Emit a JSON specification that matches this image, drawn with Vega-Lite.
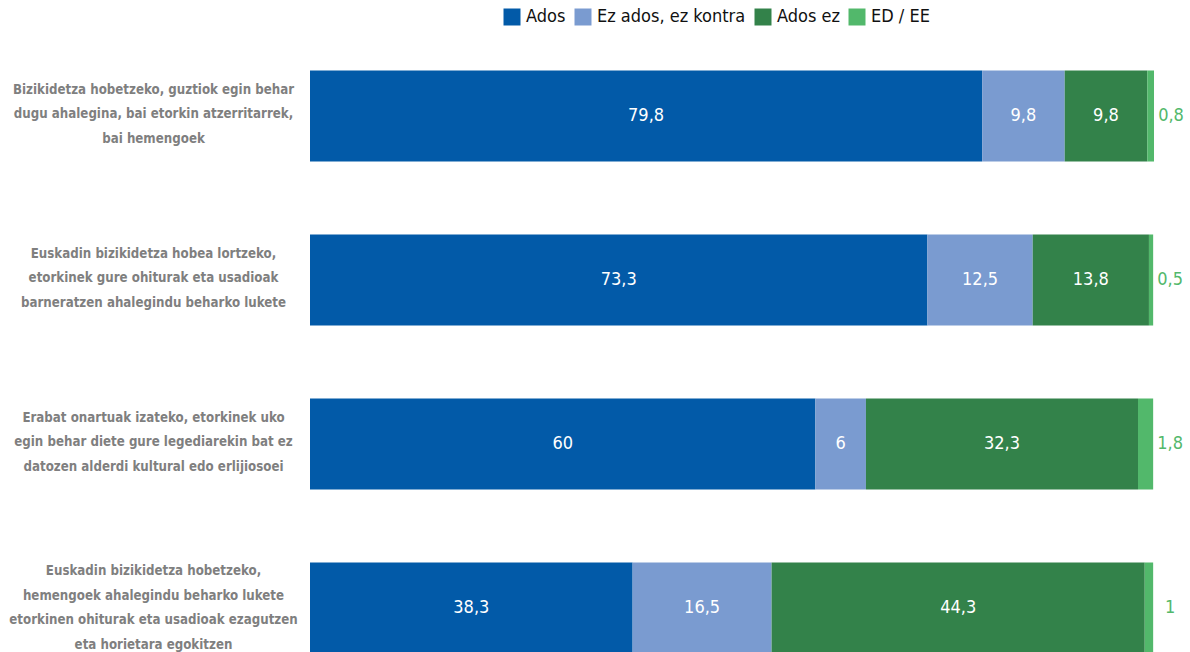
{
  "$schema": "https://vega.github.io/schema/vega-lite/v6.json",
  "width": 844,
  "height": 656,
  "autosize": {"type": "none"},
  "padding": {"left": 310, "top": 34, "right": 36, "bottom": 0},
  "background": "white",
  "config": {
    "locale": {"number": {"decimal": ",", "thousands": ".", "grouping": [3], "currency": ["", "€"]}},
    "view": {"stroke": null},
    "font": "DejaVu Sans Condensed, Liberation Sans Narrow, Roboto, sans-serif"
  },
  "data": {
    "values": [
      {"label": "Bizikidetza hobetzeko, guztiok egin behar|dugu ahalegina, bai etorkin atzerritarrek,|bai hemengoek", "cat": "Ados", "ord": 1, "value": 79.8},
      {"label": "Bizikidetza hobetzeko, guztiok egin behar|dugu ahalegina, bai etorkin atzerritarrek,|bai hemengoek", "cat": "Ez ados, ez kontra", "ord": 2, "value": 9.8},
      {"label": "Bizikidetza hobetzeko, guztiok egin behar|dugu ahalegina, bai etorkin atzerritarrek,|bai hemengoek", "cat": "Ados ez", "ord": 3, "value": 9.8},
      {"label": "Bizikidetza hobetzeko, guztiok egin behar|dugu ahalegina, bai etorkin atzerritarrek,|bai hemengoek", "cat": "ED / EE", "ord": 4, "value": 0.8},
      {"label": "Euskadin bizikidetza hobea lortzeko,|etorkinek gure ohiturak eta usadioak|barneratzen ahalegindu beharko lukete", "cat": "Ados", "ord": 1, "value": 73.3},
      {"label": "Euskadin bizikidetza hobea lortzeko,|etorkinek gure ohiturak eta usadioak|barneratzen ahalegindu beharko lukete", "cat": "Ez ados, ez kontra", "ord": 2, "value": 12.5},
      {"label": "Euskadin bizikidetza hobea lortzeko,|etorkinek gure ohiturak eta usadioak|barneratzen ahalegindu beharko lukete", "cat": "Ados ez", "ord": 3, "value": 13.8},
      {"label": "Euskadin bizikidetza hobea lortzeko,|etorkinek gure ohiturak eta usadioak|barneratzen ahalegindu beharko lukete", "cat": "ED / EE", "ord": 4, "value": 0.5},
      {"label": "Erabat onartuak izateko, etorkinek uko|egin behar diete gure legediarekin bat ez|datozen alderdi kultural edo erlijiosoei", "cat": "Ados", "ord": 1, "value": 60},
      {"label": "Erabat onartuak izateko, etorkinek uko|egin behar diete gure legediarekin bat ez|datozen alderdi kultural edo erlijiosoei", "cat": "Ez ados, ez kontra", "ord": 2, "value": 6},
      {"label": "Erabat onartuak izateko, etorkinek uko|egin behar diete gure legediarekin bat ez|datozen alderdi kultural edo erlijiosoei", "cat": "Ados ez", "ord": 3, "value": 32.3},
      {"label": "Erabat onartuak izateko, etorkinek uko|egin behar diete gure legediarekin bat ez|datozen alderdi kultural edo erlijiosoei", "cat": "ED / EE", "ord": 4, "value": 1.8},
      {"label": "Euskadin bizikidetza hobetzeko,|hemengoek ahalegindu beharko lukete|etorkinen ohiturak eta usadioak ezagutzen|eta horietara egokitzen", "cat": "Ados", "ord": 1, "value": 38.3},
      {"label": "Euskadin bizikidetza hobetzeko,|hemengoek ahalegindu beharko lukete|etorkinen ohiturak eta usadioak ezagutzen|eta horietara egokitzen", "cat": "Ez ados, ez kontra", "ord": 2, "value": 16.5},
      {"label": "Euskadin bizikidetza hobetzeko,|hemengoek ahalegindu beharko lukete|etorkinen ohiturak eta usadioak ezagutzen|eta horietara egokitzen", "cat": "Ados ez", "ord": 3, "value": 44.3},
      {"label": "Euskadin bizikidetza hobetzeko,|hemengoek ahalegindu beharko lukete|etorkinen ohiturak eta usadioak ezagutzen|eta horietara egokitzen", "cat": "ED / EE", "ord": 4, "value": 1}
    ]
  },
  "transform": [
    {"stack": "value", "groupby": ["label"], "sort": [{"field": "ord", "order": "ascending"}], "as": ["x0", "x1"]},
    {"calculate": "(datum.x0 + datum.x1) / 2", "as": "xmid"}
  ],
  "encoding": {
    "y": {
      "field": "label",
      "type": "nominal",
      "sort": null,
      "title": null,
      "scale": {"paddingInner": 0.445, "paddingOuter": 0.2225},
      "axis": {
        "labelExpr": "split(datum.label, '|')",
        "labelAlign": "center",
        "labelBaseline": "middle",
        "labelOffset": {"condition": {"test": "indexof(datum.value, 'egokitzen') >= 0", "value": -36.75}, "value": -26.5},
        "labelPadding": 157,
        "labelLimit": 320,
        "labelFontSize": 13.2,
        "labelFontWeight": "bold",
        "labelColor": "#7f7f7f",
        "labelLineHeight": 24.5,
        "ticks": false,
        "domain": false
      }
    }
  },
  "layer": [
    {
      "mark": {"type": "bar"},
      "encoding": {
        "x": {"field": "x0", "type": "quantitative", "scale": {"domain": [0, 100.2], "nice": false, "zero": true}, "axis": null},
        "x2": {"field": "x1"},
        "color": {
          "field": "cat",
          "type": "nominal",
          "sort": null,
          "scale": {
            "domain": ["Ados", "Ez ados, ez kontra", "Ados ez", "ED / EE"],
            "range": ["#025aa8", "#7a9bd0", "#33824a", "#52b86b"]
          },
          "legend": {
            "title": null,
            "orient": "none",
            "direction": "horizontal",
            "legendX": 193,
            "legendY": -26,
            "symbolType": "square",
            "symbolSize": 289,
            "symbolStrokeWidth": 0,
            "symbolOpacity": 1,
            "labelFontSize": 18,
            "labelColor": "#111111",
            "labelOffset": 5,
            "columnPadding": 8
          }
        }
      }
    },
    {
      "transform": [{"filter": "datum.ord < 4"}],
      "mark": {"type": "text", "color": "white", "fontSize": 18, "align": "center", "baseline": "middle"},
      "encoding": {
        "x": {"field": "xmid", "type": "quantitative"},
        "text": {"field": "value", "type": "quantitative", "format": ".3~r"}
      }
    },
    {
      "transform": [{"filter": "datum.ord == 4"}],
      "mark": {"type": "text", "color": "#52b86b", "fontSize": 18, "align": "center", "baseline": "middle", "dx": 17},
      "encoding": {
        "x": {"field": "x1", "type": "quantitative"},
        "text": {"field": "value", "type": "quantitative", "format": ".3~r"}
      }
    }
  ]
}
